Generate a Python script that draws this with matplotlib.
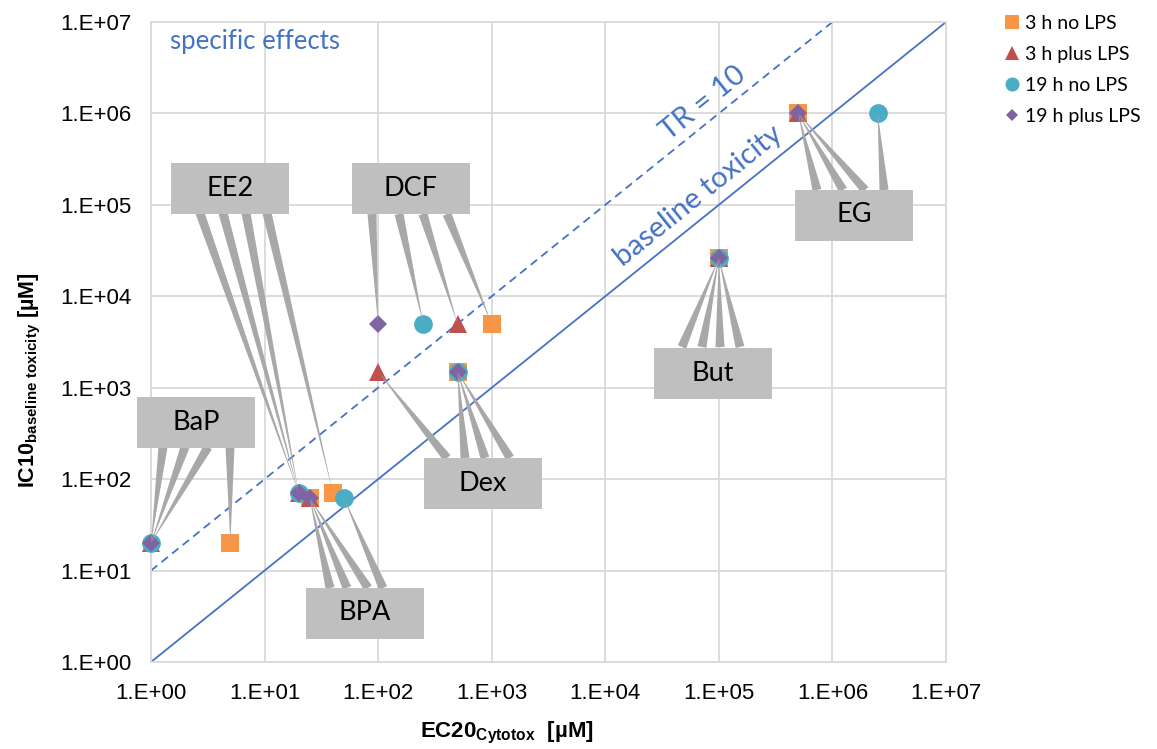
import numpy as np
import matplotlib
matplotlib.use("Agg")
import matplotlib.pyplot as plt
from matplotlib.patches import Rectangle
from matplotlib.lines import Line2D
from matplotlib.ticker import FixedLocator, FuncFormatter, NullLocator

plt.rcParams['font.family'] = ['Liberation Sans', 'DejaVu Sans']
plt.rcParams['mathtext.fontset'] = 'custom'
plt.rcParams['mathtext.rm'] = 'Liberation Sans'
plt.rcParams['mathtext.bf'] = 'Liberation Sans:bold'

# ---- data ----
compounds = ["BaP", "EE2", "BPA", "DCF", "Dex", "But", "EG"]
ic10_baseline = [20, 70, 62, 5000, 1500, 26000, 1e6]
ec20_3h_no = [5, 40, 25, 1000, 500, 1e5, 5e5]
ec20_3h_lps = [1, 20, 25, 500, 100, 1e5, 5e5]
ec20_19h_no = [1, 20, 50, 250, 500, 1e5, 2.5e6]
ec20_19h_lps = [1, 20, 25, 100, 500, 1e5, 5e5]
series_names = ["3 h no LPS", "3 h plus LPS", "19 h no LPS", "19 h plus LPS"]
decades = [1e0, 1e1, 1e2, 1e3, 1e4, 1e5, 1e6, 1e7]

series = [ec20_3h_no, ec20_3h_lps, ec20_19h_no, ec20_19h_lps]
markers = ['s', '^', 'o', 'D']
msizes = [13, 13.5, 13.5, 8.8]
colors = ['#F79646', '#C0504D', '#4BACC6', '#8064A2']
blue = '#4472C4'
grid_c = '#D9D9D9'
box_c = '#BFBFBF'
wedge_c = '#A8A8A8'

# ---- figure ----
W, H = 1157, 749
fig = plt.figure(figsize=(W / 100, H / 100), dpi=100)
AX_L, AX_R, AX_T, AX_B = 151, 946, 22, 662
ax = fig.add_axes([AX_L / W, 1 - AX_B / H, (AX_R - AX_L) / W, (AX_B - AX_T) / H])
ax.set_xscale('log')
ax.set_yscale('log')
ax.set_xlim(1, 1e7)
ax.set_ylim(1, 1e7)


def frac(px, py):
    # pixel position in the picture -> axes fraction
    return (px - AX_L) / (AX_R - AX_L), (AX_B - py) / (AX_B - AX_T)


fmt = FuncFormatter(lambda v, p: "1.E+%02d" % int(round(np.log10(v))))
for axis in (ax.xaxis, ax.yaxis):
    axis.set_major_locator(FixedLocator(decades))
    axis.set_minor_locator(NullLocator())
    axis.set_major_formatter(fmt)
ax.tick_params(length=0, labelsize=16, pad=14)
ax.tick_params(axis='x', pad=15)
ax.grid(True, color=grid_c, linewidth=1.3)
ax.set_axisbelow(True)
for s in ax.spines.values():
    s.set_color(grid_c)
    s.set_linewidth(1.3)

# baseline toxicity and TR = 10 lines
ax.plot([1, 1e7], [1, 1e7], color=blue, lw=1.3, zorder=2)
ax.plot([1, 1e6], [10, 1e7], color=blue, lw=1.3, ls=(0, (4.5, 3)), zorder=2)

# markers
for vals, m, ms, c, name in zip(series, markers, msizes, colors, series_names):
    ax.plot(vals, ic10_baseline, ls='none', marker=m, ms=ms, color=c,
            markeredgewidth=0, label=name, zorder=3, clip_on=False)

# callout boxes: centre in pixels, edge y where the leaders start, leader x per series
boxes = {
    "BaP": ((196, 422), 447, [230, 163, 185, 208]),
    "EE2": ((230, 188), 213, [267, 200, 223, 246]),
    "BPA": ((365, 613), 588, [330, 347, 383, 368]),
    "DCF": ((411, 188), 214, [447, 423, 399, 372]),
    "Dex": ((483, 483), 458, [465, 447, 485, 510]),
    "But": ((713, 373), 347, [682, 702, 720, 740]),
    "EG": ((854, 215), 190, [817, 843, 884, 865]),
}
bw, bh = 118, 51
for i, name in enumerate(compounds):
    (cx, cy), ey, bx = boxes[name]
    for k, vals in enumerate(series):
        ax.annotate("", xy=(vals[i], ic10_baseline[i]), xycoords='data',
                    xytext=frac(bx[k], ey), textcoords='axes fraction',
                    arrowprops=dict(arrowstyle="wedge,tail_width=0.65,shrink_factor=0.5",
                                    fc=wedge_c, ec='none', shrinkA=0, shrinkB=0,
                                    mutation_scale=10),
                    annotation_clip=False, zorder=4)
    x0, y0 = frac(cx - bw / 2, cy + bh / 2)
    ax.add_patch(Rectangle((x0, y0), bw / (AX_R - AX_L), bh / (AX_B - AX_T),
                           transform=ax.transAxes, fc=box_c, ec='none',
                           clip_on=False, zorder=5))
    ax.text(*frac(cx, cy), name, transform=ax.transAxes, ha='center', va='center',
            fontsize=19.5, family='Lato', color='black', zorder=6)

# annotations on the lines
fig.canvas.draw()
p1 = ax.transData.transform((1, 1))
p2 = ax.transData.transform((1e7, 1e7))
ang = np.degrees(np.arctan2(p2[1] - p1[1], p2[0] - p1[0]))
ax.text(*frac(703, 103), "TR = 10", transform=ax.transAxes, rotation=ang,
        rotation_mode='anchor', ha='center', va='center', fontsize=21,
        family='Lato', color=blue)
ax.text(*frac(698, 196), "baseline toxicity", transform=ax.transAxes, rotation=ang,
        rotation_mode='anchor', ha='center', va='center', fontsize=21,
        family='Lato', color=blue)
ax.text(*frac(170, 42), "specific effects", transform=ax.transAxes, ha='left',
        va='center', fontsize=18.5, family='Lato', color=blue)

# axis titles
fig.text(507 / W, 1 - 733 / H, r"$\mathbf{EC20_{Cytotox}}$  [µM]", ha='center',
         va='center', fontsize=16, fontweight='bold')
fig.text(30 / W, 1 - 380 / H, r"$\mathbf{IC10_{baseline\ toxicity}}$ [µM]",
         ha='center', va='center', rotation=90, fontsize=15.5, fontweight='bold')

# legend
handles = [Line2D([], [], ls='none', marker=m, ms=ms * 0.75, color=c, markeredgewidth=0)
           for m, ms, c in zip(markers, msizes, colors)]
fig.legend(handles, series_names, loc='upper left', bbox_to_anchor=(1004 / W, 1 - 15 / H),
           frameon=False, prop={'family': 'Lato', 'size': 14}, labelspacing=0.72,
           handlelength=0.8, handletextpad=0.3, borderaxespad=0, borderpad=0)

fig.savefig("out.png", dpi=100)
